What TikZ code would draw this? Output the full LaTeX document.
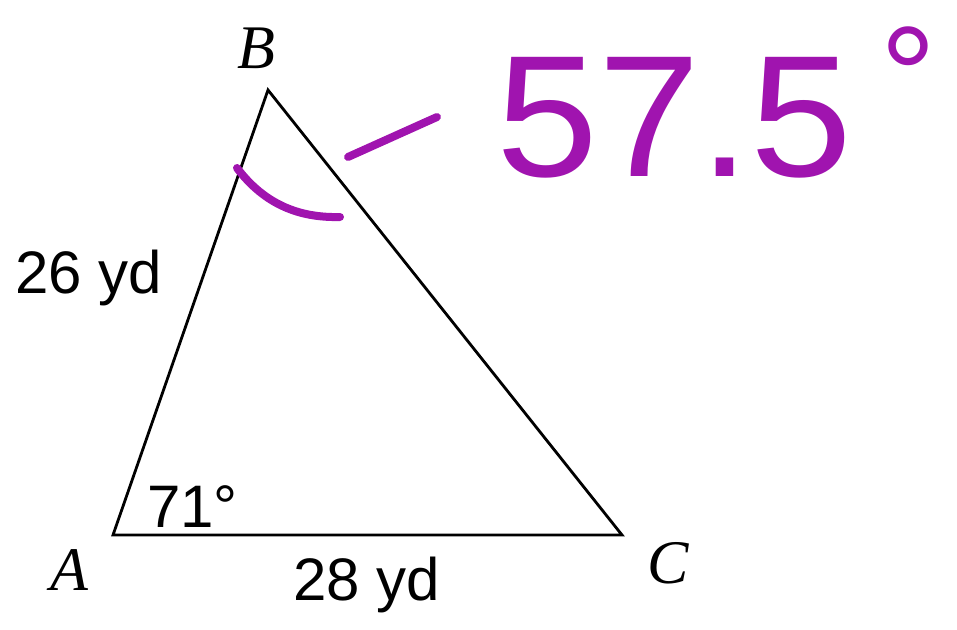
\documentclass[tikz,border=0pt]{standalone}
\usepackage{fontspec}
\setmainfont{Liberation Sans}
\newfontfamily\serifit{Liberation Serif}
\definecolor{ink}{RGB}{160,20,175}
\begin{document}
\begin{tikzpicture}[x=1pt,y=-1pt,
  side/.style={draw=black,line width=2.8pt,line join=miter},
  hand/.style={draw=ink,line width=8pt,line cap=round,line join=round},
  measure/.style={inner sep=0pt,font=\fontsize{60}{60}\selectfont},
  vertex/.style={inner sep=0pt,font=\fontsize{62}{62}\selectfont\serifit\itshape},
  handtext/.style={inner sep=0pt,text=ink,font=\fontsize{165}{165}\selectfont}]
\useasboundingbox (0,0) rectangle (957,629);
\coordinate (A) at (113,535);
\coordinate (B) at (268,90);
\coordinate (C) at (622,535);
\draw[side] (A) -- (B) -- (C) -- cycle;
\node[vertex,anchor=base] (lA) at (69,590) {A};
\node[vertex,anchor=base] (lB) at (256,68) {B};
\node[vertex,anchor=base] (lC) at (668,583) {C};
\node[measure,anchor=base west] (sAB) at (15,293) {26 yd};
\node[measure,anchor=base west] (aA) at (147,527) {71°};
\node[measure,anchor=base west] (sAC) at (293,600) {28 yd};
\coordinate (arcS) at (237,168);
\coordinate (arcE) at (340,217);
\draw[hand] (arcS) .. controls (265,205) and (300,218) .. (arcE);
\coordinate (dS) at (348,157);
\coordinate (dE) at (437,117);
\draw[hand] (dS) -- (dE);
\node[handtext,anchor=base west] (val) at (496,176) {\scalebox{1.11}[1.05]{57.5}\hspace{28pt}\raisebox{52pt}{\fontsize{140}{140}\selectfont°}};
\end{tikzpicture}
\end{document}
